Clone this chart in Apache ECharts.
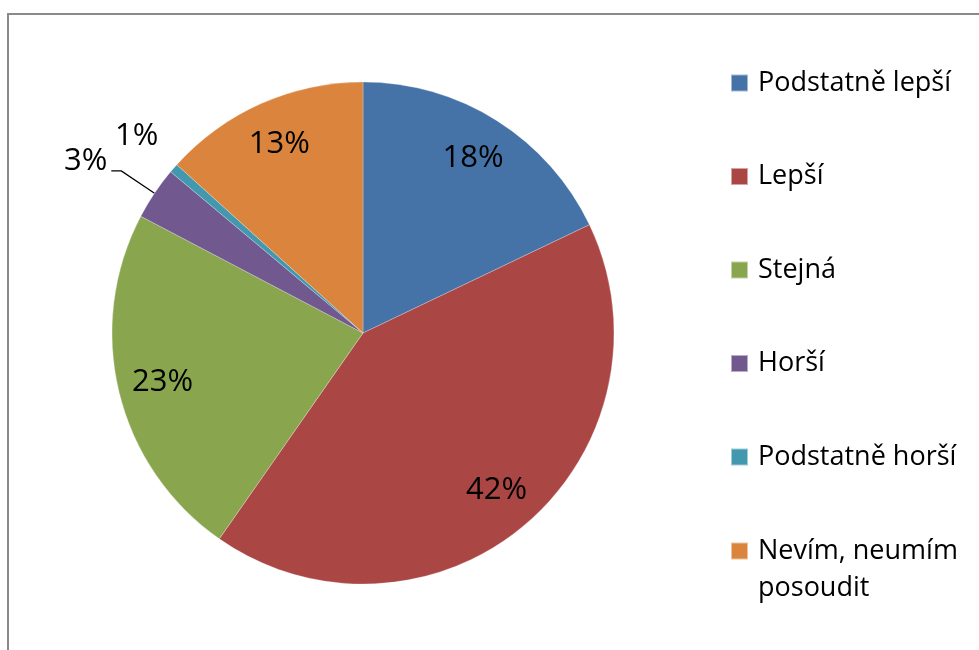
<!DOCTYPE html>
<html>
<head>
<meta charset="utf-8">
<script src="https://cdn.jsdelivr.net/npm/echarts@6/dist/echarts.min.js"></script>
<style>
  html, body { margin: 0; padding: 0; background: #fff; }
  #chart { width: 979px; height: 650px; }
</style>
</head>
<body>
<div id="chart"></div>
<script>
// kategorie a hodnoty (v %)
const categories = ['Podstatně lepší', 'Lepší', 'Stejná', 'Horší', 'Podstatně horší', 'Nevím, neumím posoudit'];
const values = [17.9, 41.8, 23.0, 3.4, 0.6, 13.3];
const colors = ['#4572A7', '#AA4643', '#89A54E', '#71588F', '#4198AF', '#DB843D'];
// kde je popisek: uvnitř výseče / venku s čarou / venku bez čáry
const labelPlace = ['in', 'in', 'in', 'line', 'free', 'in'];

const FONT = 'Open Sans';
const center = [363, 333];
const R = 251;

const fmt = p => Math.round(p.percent) + '%';

const chart = echarts.init(document.getElementById('chart'));

// hlavní koláč
const mainData = categories.map((name, i) => ({
  name: name,
  value: values[i],
  itemStyle: { color: colors[i] },
  label: { show: labelPlace[i] === 'line' },
  labelLine: { show: labelPlace[i] === 'line' }
}));

// průhledné kruhy jen kvůli popiskům
const ringData = place => categories.map((name, i) => ({
  name: name,
  value: values[i],
  label: { show: labelPlace[i] === place }
}));

const ringSeries = (radius, place) => ({
  type: 'pie',
  center: center,
  radius: radius,
  startAngle: 90,
  silent: true,
  animation: false,
  itemStyle: { color: 'rgba(0,0,0,0)', borderWidth: 0 },
  label: { position: 'inside', formatter: fmt, fontFamily: FONT, fontSize: 31, color: '#000' },
  labelLine: { show: false },
  emphasis: { disabled: true },
  data: ringData(place)
});

const legendRich = {
  p: { height: 37, lineHeight: 37 },
  a: { fontFamily: FONT, fontSize: 27, color: '#000', lineHeight: 37, padding: [0, 0, 0, 5] }
};

chart.setOption({
  animation: false,
  graphic: [{
    type: 'rect',
    shape: { x: 8, y: 14, width: 1100, height: 800 },
    style: { fill: 'none', stroke: '#8a8a8a', lineWidth: 2 },
    silent: true
  }],
  legend: [{
    data: categories.slice(0, 5),
    orient: 'vertical',
    left: 730,
    top: 69.5,
    padding: 0,
    icon: 'rect',
    itemWidth: 17,
    itemHeight: 17,
    itemGap: 66.5,
    formatter: n => '{a|' + n + '}',
    textStyle: { rich: legendRich }
  }, {
    data: categories.slice(5),
    orient: 'vertical',
    left: 730,
    top: 495.5,
    padding: 0,
    icon: 'rect',
    itemWidth: 17,
    itemHeight: 17,
    // prázdný první řádek, aby čtverec seděl u prvního řádku textu
    formatter: n => '{p| }\n{a|' + n.replace('neumím ', 'neumím}\n{a|') + '}',
    textStyle: { rich: legendRich }
  }],
  series: [{
    type: 'pie',
    center: center,
    radius: R,
    startAngle: 90,
    avoidLabelOverlap: false,
    emphasis: { scale: false },
    itemStyle: { borderColor: 'rgba(255,255,255,0.5)', borderWidth: 0.5 },
    label: {
      position: 'outside',
      // druhý prázdný řádek zvedne text nad vodicí čáru
      formatter: p => '{v|' + fmt(p) + '}\n{e| }',
      rich: {
        v: { fontFamily: FONT, fontSize: 31, color: '#000', lineHeight: 24 },
        e: { height: 20, lineHeight: 20 }
      },
      distanceToLabelLine: 4
    },
    labelLine: { length: 40, length2: 10, lineStyle: { color: '#000', width: 1.3 } },
    data: mainData
  },
  ringSeries([0.62 * R, R], 'in'),
  ringSeries([280, 314], 'free')
  ]
});
</script>
</body>
</html>
